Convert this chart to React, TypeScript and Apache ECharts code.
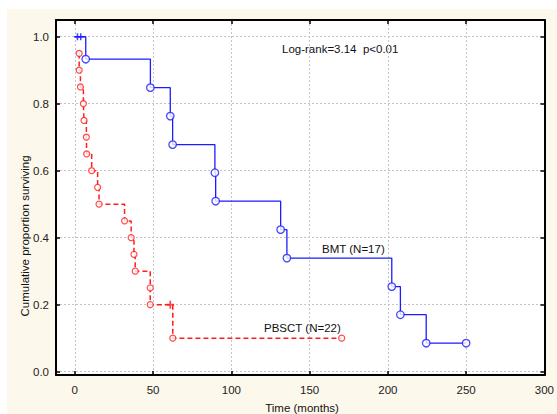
import React, { useEffect, useRef } from "react";
import * as echarts from "echarts";

// BMT (N=17) — Kaplan–Meier steps (time in months, cumulative proportion surviving)
const bmtTimes = [0, 7, 48.3, 61, 62.5, 89.5, 90, 131.5, 135.5, 202.5, 208, 224.5, 250];
const bmtSurv = [1.0, 0.933, 0.848, 0.763, 0.678, 0.594, 0.509, 0.424, 0.339, 0.254, 0.17, 0.085, 0.085];
const bmtCensorTimes = [1.7, 3.8];
const bmtCensorSurv = [1.0, 1.0];

// PBSCT (N=22)
const pbsctTimes = [2.8, 2.8, 3.6, 5.5, 5.9, 7.4, 7.6, 10.8, 14.6, 15.5, 31.8, 36, 37.8, 38.6, 48.2, 48.2, 62.6, 170.5];
const pbsctSurv = [0.95, 0.9, 0.85, 0.8, 0.75, 0.7, 0.65, 0.6, 0.55, 0.5, 0.45, 0.4, 0.35, 0.3, 0.25, 0.2, 0.1, 0.1];
const pbsctCensorTimes = [61];
const pbsctCensorSurv = [0.2];

const xTickStep = 50;
const yTickStep = 0.2;

const BLUE = "#1c1cff";
const RED = "#ff1e1e";
const FONT = 'Arial, "Liberation Sans", sans-serif';
const PLUS = "path://M-0.9,-4H0.9V-0.9H4V0.9H0.9V4H-0.9V0.9H-4V-0.9H-0.9Z";

const zip = (a: number[], b: number[]) => a.map((v, i) => [v, b[i]]);

export default function App() {
  const ref = useRef<HTMLDivElement>(null);
  useEffect(() => {
    if (!ref.current) return;
    const chart = echarts.init(ref.current, null, { renderer: "svg" });
    const xLabel = (v: number) => {
      const k = Math.round(v / xTickStep);
      return Math.abs(v - k * xTickStep) < 1e-6 && v >= 0 ? String(k * xTickStep) : "";
    };
    const yLabel = (v: number) => {
      const k = Math.round(v / yTickStep);
      return Math.abs(v - k * yTickStep) < 1e-6 && v > -1e-6 && v < 1.0001 ? (k * yTickStep).toFixed(1) : "";
    };
    const frameLine = { show: true, onZero: false, lineStyle: { color: "#000", width: 2 } };
    const tick = { show: true, inside: true, length: 4, lineStyle: { color: "#000", width: 1.5 } };
    const split = { show: true, lineStyle: { color: "#c4c4c4", width: 1, type: [2, 2] } };
    const xBase = { type: "value", min: -12, max: 300, minInterval: xTickStep, maxInterval: xTickStep };
    const yBase = { type: "value", min: -0.01, max: 1.05, minInterval: yTickStep, maxInterval: yTickStep };
    chart.setOption({
      animation: false,
      backgroundColor: "#ffffff",
      textStyle: { fontFamily: FONT },
      grid: { left: 56, top: 20, right: 11, bottom: 39, show: true, backgroundColor: "#ffffff", borderWidth: 0 },
      xAxis: [
        {
          ...xBase,
          position: "bottom",
          axisLine: frameLine,
          axisTick: tick,
          axisLabel: { formatter: xLabel, margin: 9, fontSize: 11.5, color: "#222", fontFamily: FONT },
          splitLine: split,
        },
        {
          ...xBase,
          position: "top",
          axisLine: frameLine,
          axisTick: tick,
          axisLabel: { show: false },
          splitLine: { show: false },
        },
      ],
      yAxis: [
        {
          ...yBase,
          position: "left",
          axisLine: frameLine,
          axisTick: tick,
          axisLabel: { formatter: yLabel, margin: 7, fontSize: 11.5, color: "#222", fontFamily: FONT },
          splitLine: split,
        },
        {
          ...yBase,
          position: "right",
          axisLine: frameLine,
          axisTick: tick,
          axisLabel: { show: false },
          splitLine: { show: false },
        },
      ],
      graphic: [
        { type: "rect", z: -100, silent: true, shape: { x: 7, y: 9, width: 560, height: 420 }, style: { fill: "#fdf8ec" } },
        {
          type: "text",
          x: 282,
          y: 49,
          style: { text: "Log-rank=3.14  p<0.01", font: `11.5px ${FONT}`, fill: "#111", verticalAlign: "middle" },
        },
        {
          type: "text",
          x: 322,
          y: 249,
          style: { text: "BMT (N=17)", font: `11.5px ${FONT}`, fill: "#111", verticalAlign: "middle" },
        },
        {
          type: "text",
          x: 264,
          y: 328,
          style: { text: "PBSCT (N=22)", font: `11.5px ${FONT}`, fill: "#111", verticalAlign: "middle" },
        },
        {
          type: "text",
          x: 302,
          y: 408,
          style: { text: "Time (months)", font: `11.5px ${FONT}`, fill: "#111", align: "center", verticalAlign: "middle" },
        },
        {
          type: "text",
          x: 25,
          y: 236,
          rotation: Math.PI / 2,
          style: {
            text: "Cumulative proportion surviving",
            font: `11.5px ${FONT}`,
            fill: "#111",
            align: "center",
            verticalAlign: "middle",
          },
        },
      ],
      series: [
        {
          name: "BMT",
          type: "line",
          step: "end",
          data: zip(bmtTimes, bmtSurv),
          symbol: "none",
          lineStyle: { color: BLUE, width: 1.3 },
          silent: true,
          z: 3,
        },
        {
          name: "BMT events",
          type: "scatter",
          data: zip(bmtTimes, bmtSurv).slice(1),
          symbol: "circle",
          symbolSize: 7.5,
          itemStyle: { color: "#fff", borderColor: BLUE, borderWidth: 1.3 },
          silent: true,
          z: 5,
        },
        {
          name: "BMT censored",
          type: "scatter",
          data: zip(bmtCensorTimes, bmtCensorSurv),
          symbol: PLUS,
          symbolSize: 7,
          itemStyle: { color: BLUE },
          silent: true,
          z: 5,
        },
        {
          name: "PBSCT",
          type: "line",
          step: "end",
          data: zip(pbsctTimes, pbsctSurv),
          symbol: "none",
          lineStyle: { color: RED, width: 1.5, type: [5, 3] },
          silent: true,
          z: 3,
        },
        {
          name: "PBSCT events",
          type: "scatter",
          data: zip(pbsctTimes, pbsctSurv),
          symbol: "circle",
          symbolSize: 6,
          itemStyle: { color: "#fff", borderColor: RED, borderWidth: 1.2 },
          silent: true,
          z: 4,
        },
        {
          name: "PBSCT censored",
          type: "scatter",
          data: zip(pbsctCensorTimes, pbsctCensorSurv),
          symbol: PLUS,
          symbolSize: 8,
          itemStyle: { color: RED },
          silent: true,
          z: 4,
        },
      ],
    });
    return () => chart.dispose();
  }, []);
  return (
    <div
      ref={ref}
      style={{ position: "absolute", left: 0, top: 0, width: 557, height: 414 }}
    />
  );
}
